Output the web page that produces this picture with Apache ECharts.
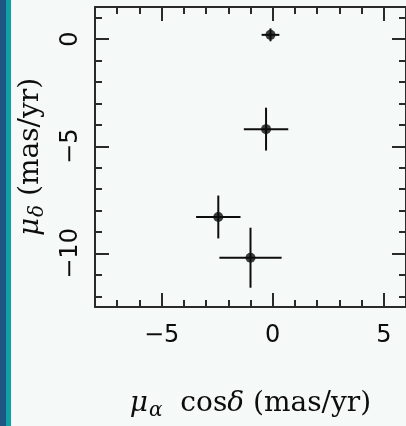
<!DOCTYPE html>
<html>
<head>
<meta charset="utf-8">
<script src="https://cdn.jsdelivr.net/npm/echarts@6/dist/echarts.min.js"></script>
<style>
html,body{margin:0;padding:0;background:#f5f9f7;}
#c{width:406px;height:426px;}
</style>
</head>
<body>
<div id="c"></div>
<script>
// Proper motions (mas/yr)
const pmRA = [-0.1, -0.3, -2.45, -1.0];
const pmDec = [0.2, -4.2, -8.3, -10.2];
const errRA = [0.4, 1.0, 1.0, 1.4];
const errDec = [0.3, 1.0, 1.0, 1.4];
const xMajor = [-5, 0, 5];
const yMajor = [-10, -5, 0];
const xMinor = [-8, -7, -6, -4, -3, -2, -1, 1, 2, 3, 4, 6];
const yMinor = [-12, -11, -9, -8, -7, -6, -4, -3, -2, -1, 1];
const xRange = [-8, 6];
const yRange = [-12.5, 1.5];

const frame = '#2a2a2a';
const ink = '#0d0d0d';
const numFont = 'DejaVu Sans';
const serif = 'DejaVu Serif';
const fmt = v => String(v).replace('-', '\u2212');

function xAx(pos, ticks, len, withLabel, withLine, extra) {
  return Object.assign({
    type: 'value', gridIndex: 0, position: pos, min: xRange[0], max: xRange[1],
    axisLine: { show: withLine, onZero: false, lineStyle: { color: frame, width: 2 } },
    axisTick: { show: true, inside: true, length: len, customValues: ticks, lineStyle: { color: frame, width: 2 } },
    axisLabel: withLabel ? { show: true, customValues: ticks, formatter: fmt, margin: 17, color: ink, fontFamily: numFont, fontSize: 24 } : { show: false },
    splitLine: { show: false }
  }, extra || {});
}
function yAx(pos, ticks, len, withLabel, withLine, extra) {
  return Object.assign({
    type: 'value', gridIndex: 0, position: pos, min: yRange[0], max: yRange[1],
    axisLine: { show: withLine, onZero: false, lineStyle: { color: frame, width: 2 } },
    axisTick: { show: true, inside: true, length: len, customValues: ticks, lineStyle: { color: frame, width: 2 } },
    axisLabel: withLabel ? { show: true, rotate: 90, customValues: ticks, formatter: fmt, margin: 12, color: ink, fontFamily: numFont, fontSize: 24 } : { show: false },
    splitLine: { show: false }
  }, extra || {});
}

const titleRich = {
  i: { fontFamily: serif, fontSize: 28, fontStyle: 'italic', color: ink, lineHeight: 34 },
  m: { fontFamily: serif, fontSize: 28, color: ink, lineHeight: 34 },
  s: { fontFamily: serif, fontSize: 20, fontStyle: 'italic', color: ink, lineHeight: 34, padding: [14, 0, 0, 1] }
};

const chart = echarts.init(document.getElementById('c'), null, { renderer: 'canvas' });
chart.setOption({
  backgroundColor: '#f5f9f7',
  animation: false,
  graphic: [
    { type: 'rect', shape: { x: 0, y: 0, width: 6, height: 426 }, style: { fill: '#1f5582' }, z: 100 },
    { type: 'rect', shape: { x: 6, y: 0, width: 5, height: 426 }, style: { fill: '#10a1a7' }, z: 100 }
  ],
  grid: { left: 95, top: 7, right: -2, bottom: 104, containLabel: false },
  xAxis: [
    xAx('bottom', xMajor, 14, true, true, {
      name: '{i|\u03bc}{s|\u03b1}{m|  cos}{i|\u03b4}{m| (mas/yr)}', nameLocation: 'middle', nameGap: 80,
      nameTextStyle: { rich: titleRich }
    }),
    xAx('bottom', xMinor, 7, false, false),
    xAx('top', xMajor, 14, false, true),
    xAx('top', xMinor, 7, false, false)
  ],
  yAxis: [
    yAx('left', yMajor, 14, true, true, {
      name: '{i|\u03bc}{s|\u03b4}{m| (mas/yr)}', nameLocation: 'middle', nameGap: 47, nameRotate: 90,
      nameTextStyle: { rich: titleRich }
    }),
    yAx('left', yMinor, 7, false, false),
    yAx('right', yMajor, 14, false, true),
    yAx('right', yMinor, 7, false, false)
  ],
  series: [
    {
      type: 'custom', xAxisIndex: 0, yAxisIndex: 0,
      data: pmRA.map((x, i) => [x, pmDec[i], errRA[i], errDec[i]]),
      renderItem: function (params, api) {
        const x = api.value(0), y = api.value(1), ex = api.value(2), ey = api.value(3);
        const l = api.coord([x - ex, y]), r = api.coord([x + ex, y]);
        const t = api.coord([x, y + ey]), b = api.coord([x, y - ey]);
        const st = { stroke: ink, lineWidth: 2 };
        return { type: 'group', children: [
          { type: 'line', shape: { x1: l[0], y1: l[1], x2: r[0], y2: r[1] }, style: st },
          { type: 'line', shape: { x1: t[0], y1: t[1], x2: b[0], y2: b[1] }, style: st }
        ] };
      },
      z: 3
    },
    {
      type: 'scatter', xAxisIndex: 0, yAxisIndex: 0,
      data: pmRA.map((x, i) => [x, pmDec[i]]),
      symbol: 'circle', symbolSize: 10,
      itemStyle: { color: ink },
      z: 4
    }
  ]
});
</script>
</body>
</html>
